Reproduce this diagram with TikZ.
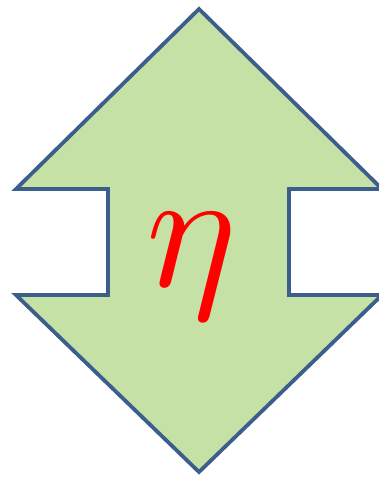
\documentclass[tikz,border=0pt]{standalone}
\usepackage{tikz}
\definecolor{arrowfill}{HTML}{C6E1A6}
\definecolor{arrowline}{HTML}{3B5E8C}
\tikzset{arrowshape/.style={fill=arrowfill,draw=arrowline,line width=3.8pt,line join=miter},
  etalabel/.style={text=red,inner sep=0pt,scale=17}}
\begin{document}
\begin{tikzpicture}[x=1pt,y=-1pt]
\useasboundingbox (0,0) rectangle (379,480);
\clip (0,0) rectangle (379,480);
\draw[arrowshape] (199,9) -- (382,189) -- (289,189) -- (289,295) -- (382,295) -- (199,472) -- (16,295) -- (108,295) -- (108,189) -- (16,189) -- cycle;
\node[etalabel] (eta) at (192,266) {$\eta$};
\end{tikzpicture}
\end{document}
